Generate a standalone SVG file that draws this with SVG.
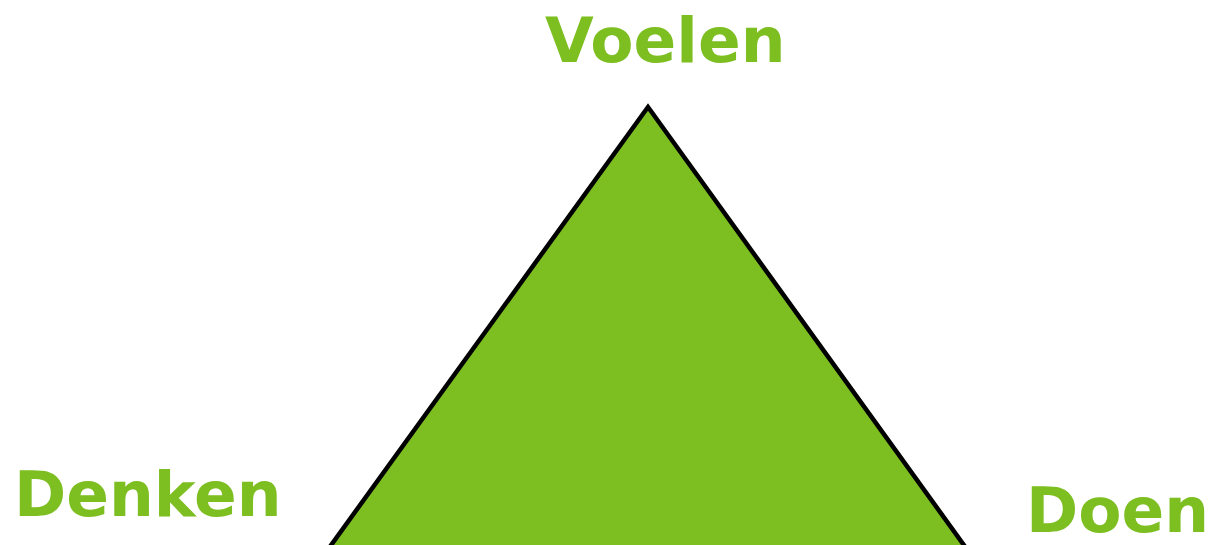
<svg xmlns="http://www.w3.org/2000/svg" width="1211" height="545" viewBox="0 0 1211 545">
<style>
.lbl{font-family:"DejaVu Sans",Verdana,sans-serif;font-weight:bold;font-size:63px;fill:#7dbe21}
</style>
<rect width="1211" height="545" fill="#ffffff"/>
<g id="triangle">
<polygon points="648,107 329,548 966,548" fill="#7dbe21" stroke="#000000" stroke-width="4.5" stroke-linejoin="miter"/>
</g>
<g id="voelen"><text class="lbl" x="545" y="62">Voelen</text></g>
<g id="denken"><text class="lbl" x="14" y="516">Denken</text></g>
<g id="doen"><text class="lbl" x="1026" y="532">Doen</text></g>
</svg>
